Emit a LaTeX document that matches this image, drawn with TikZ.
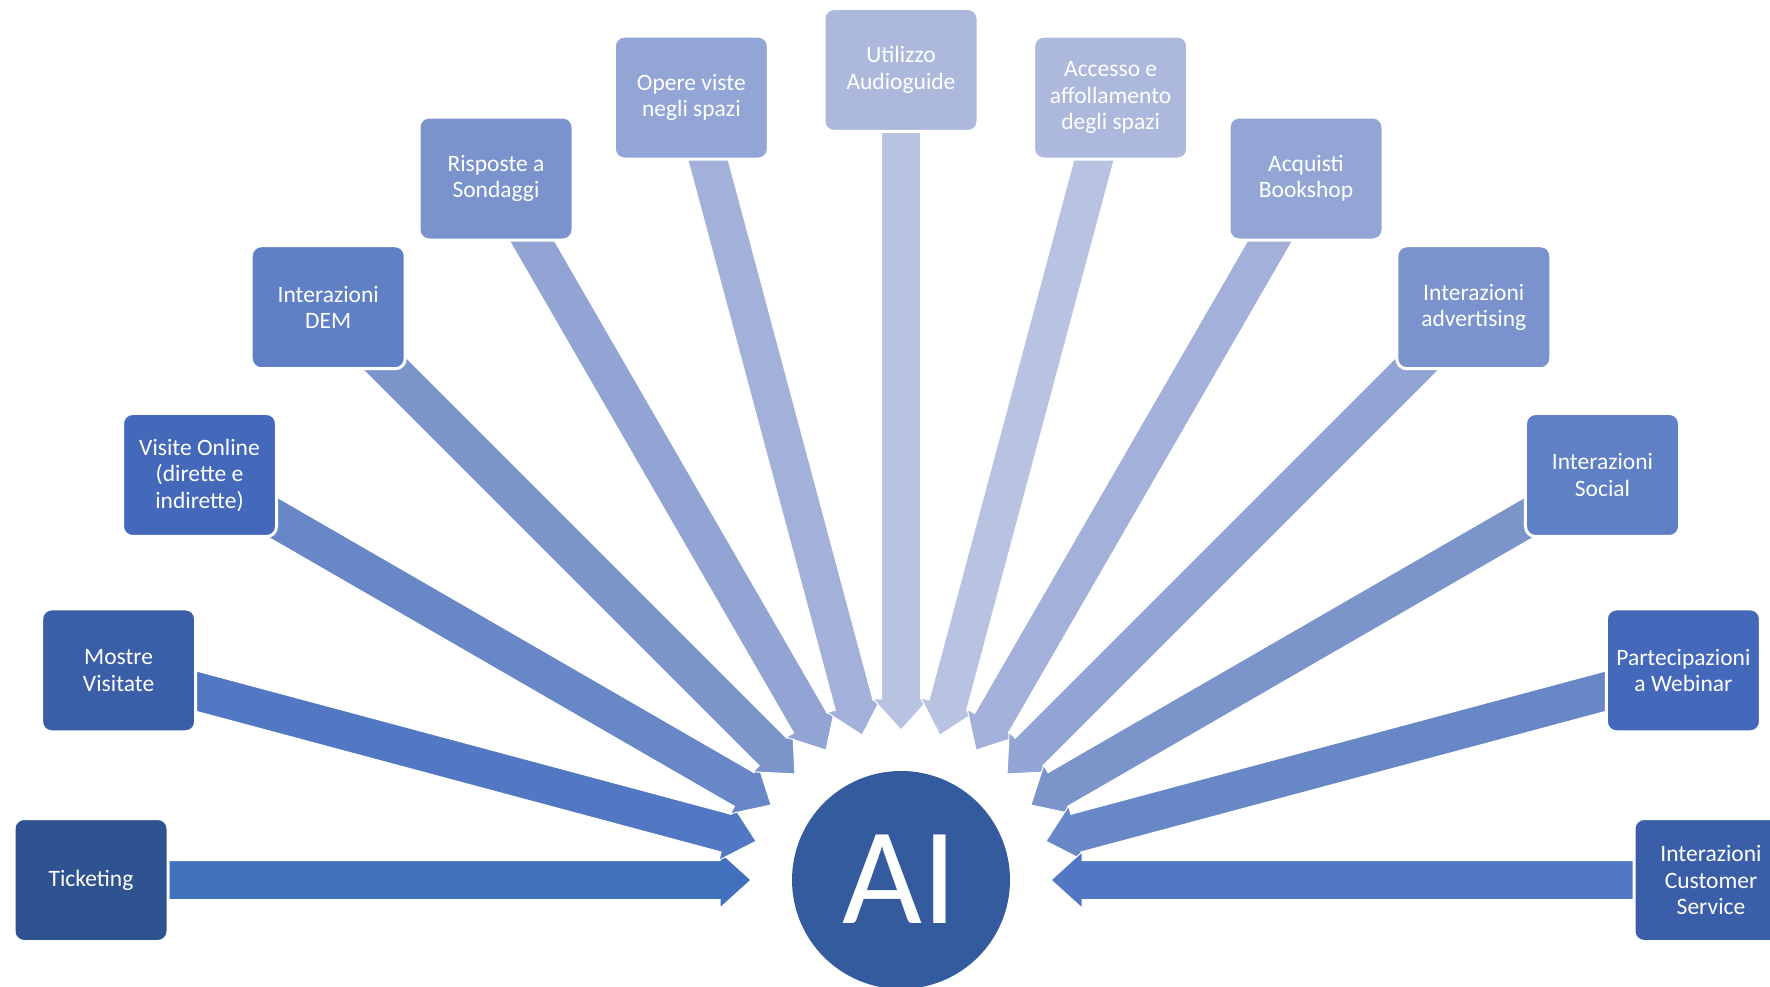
\documentclass[tikz,border=0pt]{standalone}
\usepackage{fontspec}
\setmainfont{Carlito}
\usetikzlibrary{calc}
\definecolor{c0}{HTML}{2F5290}
\definecolor{c1}{HTML}{3A5FA8}
\definecolor{c2}{HTML}{4469BB}
\definecolor{c3}{HTML}{6080C5}
\definecolor{c4}{HTML}{7A93CC}
\definecolor{c5}{HTML}{93A5D5}
\definecolor{c6}{HTML}{ADB9DC}
\definecolor{a0}{HTML}{4170BC}
\definecolor{a1}{HTML}{5378C3}
\definecolor{a2}{HTML}{6787C6}
\definecolor{a3}{HTML}{7B95CB}
\definecolor{a4}{HTML}{91A4D3}
\definecolor{a5}{HTML}{A3B1DA}
\definecolor{a6}{HTML}{B8C3E2}
\definecolor{aicol}{HTML}{355B9F}
\begin{document}
\begin{tikzpicture}[x=1pt,y=1pt,
  boxnode/.style={rectangle, rounded corners=10pt, draw=white, line width=3pt,
    minimum width=154pt, minimum height=123pt, text=white, align=center,
    font=\fontsize{23.5}{26.5}\selectfont, inner sep=0pt},
  blockarrow/.style={draw=white, line width=1pt},
  hub/.style={circle, fill=aicol, minimum size=218pt, inner sep=0pt}]
\useasboundingbox (0,0) rectangle (1770,986);
\node[hub] (ai) at (901,106) {};
\node[text=white, font=\fontsize{138}{138}\selectfont, inner sep=0pt] (ailabel) at ([xshift=-1pt,yshift=1pt]ai.center) {AI};
% block arrows toward the hub
\foreach \ang/\ac in {180/a0,165/a1,150/a2,135/a3,120/a4,105/a5,90/a6,75/a6,60/a5,45/a4,30/a3,15/a2,0/a1}{
  \begin{scope}[shift={(ai.center)}, rotate=\ang]
    \filldraw[blockarrow, fill=\ac] (780,19.5) -- (181,19.5) -- (181,28) -- (150,0)
      -- (181,-28) -- (181,-19.5) -- (780,-19.5) -- cycle;
  \end{scope}
}
% boxes
\foreach \ang/\txt/\bc in {
  180/{Ticketing}/c0,
  165/{Mostre\\Visitate}/c1,
  150/{Visite Online\\(dirette e\\indirette)}/c2,
  135/{Interazioni\\DEM}/c3,
  120/{Risposte a\\Sondaggi}/c4,
  105/{Opere viste\\negli spazi}/c5,
  90/{Utilizzo\\Audioguide}/c6,
  75/{Accesso e\\affollamento\\degli spazi}/c6,
  60/{Acquisti\\Bookshop}/c5,
  45/{Interazioni\\advertising}/c4,
  30/{Interazioni\\Social}/c3,
  15/{Partecipazioni\\a Webinar}/c2,
  0/{Interazioni\\Customer\\Service}/c1}{
  \node[boxnode, fill=\bc] (b\ang) at ($(ai.center)+(\ang:810)$) {\txt};
}
\end{tikzpicture}
\end{document}
